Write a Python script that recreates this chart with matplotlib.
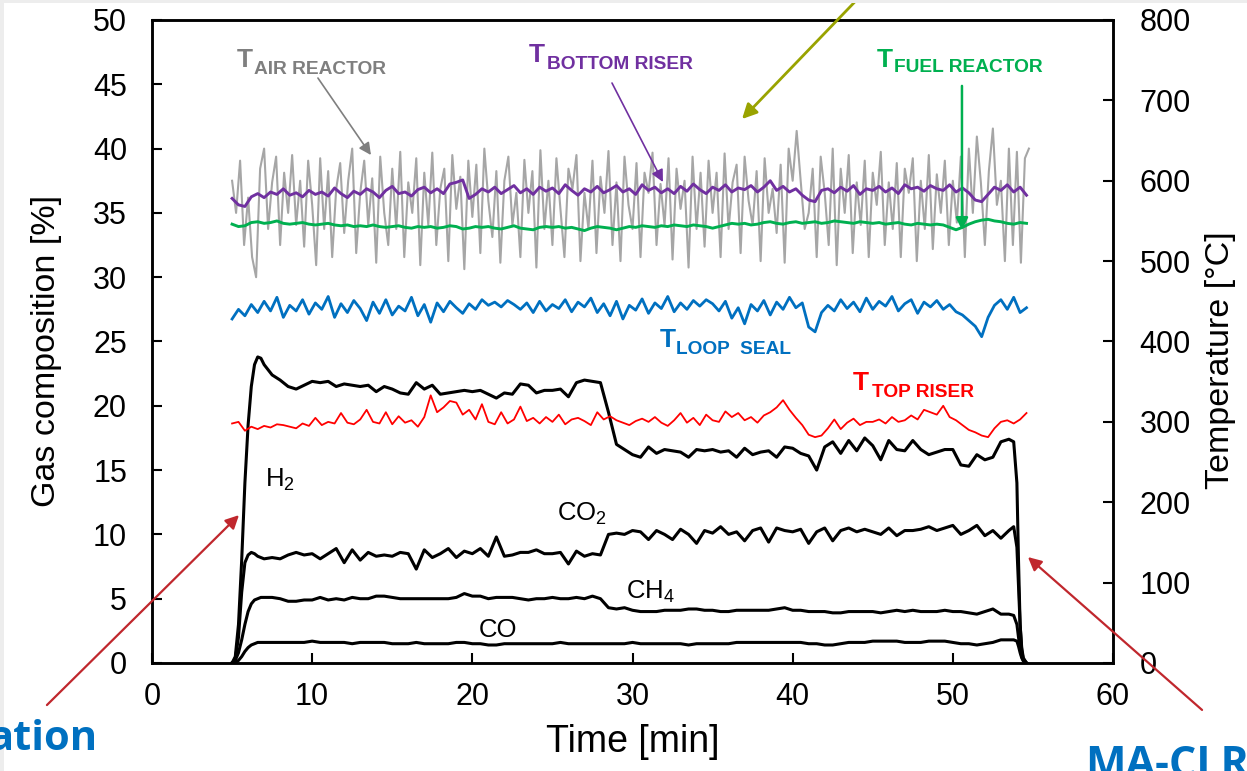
import numpy as np
import matplotlib
matplotlib.use('Agg')
import matplotlib.pyplot as plt
from matplotlib.patches import Rectangle

plt.rcParams['font.family'] = ['Liberation Sans', 'DejaVu Sans']
plt.rcParams['mathtext.fontset'] = 'custom'
plt.rcParams['mathtext.rm'] = 'Liberation Sans'

# ---------------- data: gas composition [%] ----------------
t_rise = [5.0, 5.2, 5.4, 5.6, 5.8, 6.0, 6.2, 6.4, 6.6, 6.8, 7.0]
t_fall = [53.8, 54.0, 54.1, 54.2, 54.3, 54.4, 54.6]
mid_start, mid_step = 7.5, 0.5

h2_rise = [0, 0.5, 3, 8, 14, 18.5, 21.5, 23.2, 23.8, 23.7, 23.2]
h2_mid = [22.4, 22.0, 21.5, 21.3, 21.6, 21.9, 21.8, 21.9, 21.5, 21.7,
          21.6, 21.5, 21.6, 21.1, 21.5, 21.3, 21.0, 20.9, 21.8, 21.3,
          21.6, 20.9, 21.0, 21.1, 21.2, 21.1, 21.2, 20.9, 20.6, 21.0,
          20.9, 21.7, 21.6, 21.0, 21.2, 21.2, 21.3, 20.7, 21.8, 22.0,
          21.9, 21.8, 19.5, 17.0, 16.6, 16.2, 16.0, 16.8, 16.3, 16.6,
          16.5, 16.4, 16.0, 16.6, 16.5, 16.6, 16.4, 16.5, 16.0, 16.7,
          16.2, 16.4, 16.5, 16.0, 16.8, 16.7, 16.3, 16.1, 15.0, 16.8,
          17.2, 16.3, 17.3, 16.5, 17.5, 16.9, 15.8, 17.3, 16.6, 16.5,
          17.3, 16.6, 16.2, 16.4, 16.6, 16.6, 15.4, 15.3, 16.2, 15.8,
          16.0, 17.2, 17.4]
h2_fall = [17.2, 14.0, 8.0, 3.0, 1.0, 0.3, 0]

co2_rise = [0, 0.3, 2.0, 5.5, 7.8, 8.4, 8.6, 8.5, 8.3, 8.2, 8.1]
co2_mid = [8.2, 8.1, 8.4, 8.6, 8.4, 8.5, 8.1, 8.5, 8.9, 7.8,
           8.8, 8.0, 8.6, 8.3, 8.4, 8.3, 8.6, 8.5, 7.3, 8.8,
           8.2, 8.5, 8.9, 8.2, 8.7, 8.5, 8.9, 8.3, 9.8, 8.3,
           8.4, 8.6, 8.6, 8.8, 8.5, 8.5, 8.6, 7.7, 8.7, 8.3,
           8.5, 8.4, 10.0, 10.1, 10.0, 10.3, 10.2, 9.6, 10.3, 10.0,
           9.6, 10.4, 10.0, 9.3, 10.3, 10.1, 10.6, 10.0, 10.2, 9.5,
           10.3, 10.5, 9.4, 10.5, 10.3, 10.2, 10.4, 9.3, 10.2, 10.5,
           9.5, 10.3, 10.5, 10.2, 10.4, 10.2, 10.0, 10.5, 9.9, 10.3,
           10.3, 10.4, 10.6, 10.3, 10.5, 10.7, 10.0, 10.3, 10.7, 9.9,
           10.3, 9.7, 10.3]
co2_fall = [10.6, 9.0, 6.0, 3.0, 1.2, 0.4, 0]

ch4_rise = [0, 0.2, 0.8, 1.8, 3.0, 4.0, 4.6, 4.9, 5.0, 5.1, 5.1]
ch4_mid = [5.1, 5.0, 4.8, 4.8, 4.9, 4.9, 5.1, 4.9, 5.0, 4.9,
           5.1, 5.0, 5.0, 5.2, 5.2, 5.1, 5.0, 5.0, 5.0, 5.0,
           5.0, 5.0, 5.0, 5.1, 5.4, 5.2, 5.2, 5.0, 5.1, 5.1,
           5.1, 5.0, 4.9, 5.0, 5.0, 5.1, 5.0, 5.0, 5.1, 5.0,
           5.2, 5.0, 4.3, 4.2, 4.3, 4.1, 4.0, 4.0, 4.0, 4.1,
           4.1, 4.1, 4.2, 4.2, 4.1, 4.1, 4.0, 4.0, 4.1, 4.1,
           4.1, 4.1, 4.1, 4.2, 4.3, 4.1, 4.1, 4.0, 4.0, 4.0,
           3.9, 3.9, 4.0, 4.0, 4.0, 4.0, 3.9, 4.0, 4.1, 4.0,
           4.1, 4.0, 4.0, 4.0, 4.1, 4.0, 4.0, 3.9, 3.8, 4.0,
           4.2, 3.8, 3.8]
ch4_fall = [3.7, 3.0, 2.0, 1.1, 0.5, 0.2, 0]

co_rise = [0, 0.05, 0.2, 0.5, 0.9, 1.2, 1.4, 1.5, 1.6, 1.6, 1.6]
co_mid = [1.6, 1.6, 1.6, 1.6, 1.6, 1.7, 1.6, 1.6, 1.6, 1.6,
          1.5, 1.6, 1.6, 1.6, 1.6, 1.5, 1.5, 1.5, 1.6, 1.5,
          1.5, 1.5, 1.5, 1.6, 1.6, 1.5, 1.5, 1.4, 1.4, 1.5,
          1.5, 1.5, 1.5, 1.5, 1.5, 1.5, 1.6, 1.5, 1.5, 1.5,
          1.5, 1.5, 1.5, 1.5, 1.5, 1.6, 1.5, 1.5, 1.5, 1.5,
          1.5, 1.5, 1.4, 1.5, 1.5, 1.5, 1.5, 1.5, 1.6, 1.6,
          1.6, 1.6, 1.6, 1.6, 1.6, 1.6, 1.6, 1.5, 1.5, 1.4,
          1.4, 1.5, 1.6, 1.6, 1.6, 1.7, 1.7, 1.7, 1.7, 1.6,
          1.6, 1.6, 1.7, 1.7, 1.7, 1.6, 1.5, 1.5, 1.4, 1.5,
          1.6, 1.8, 1.8]
co_fall = [1.8, 1.7, 1.3, 0.8, 0.4, 0.15, 0]

# ---------------- data: temperatures [degC] ----------------
temp_start, temp_step = 5.0, 0.4
air_start, air_step = 5.0, 0.25

T_bottom_riser = [578, 570, 568, 580, 584, 579, 586, 583, 590, 582,
                  585, 580, 588, 583, 586, 581, 591, 584, 579, 587,
                  583, 590, 586, 579, 588, 593, 584, 586, 581, 589,
                  592, 585, 590, 584, 596, 598, 601, 578, 583, 590,
                  586, 592, 584, 589, 594, 585, 590, 583, 592, 587,
                  591, 584, 595, 588, 582, 590, 586, 593, 585, 589,
                  594, 586, 590, 583, 595, 588, 592, 585, 590, 584,
                  593, 587, 596, 589, 584, 592, 588, 595, 586, 591,
                  589, 594, 586, 592, 600, 588, 593, 586, 590, 582,
                  576, 574, 588, 590, 585, 592, 587, 594, 583, 590,
                  588, 593, 586, 591, 584, 595, 590, 592, 587, 594,
                  590, 588, 595, 586, 591, 585, 576, 574, 583, 592,
                  588, 595, 586, 592, 582]

T_fuel_reactor = [546, 543, 544, 548, 549, 547, 548, 550, 547, 546,
                  547, 548, 546, 545, 546, 547, 545, 544, 545, 543,
                  544, 543, 545, 543, 542, 543, 544, 542, 541, 543,
                  542, 543, 541, 542, 544, 543, 540, 541, 543, 542,
                  543, 541, 540, 542, 544, 541, 540, 539, 542, 543,
                  542, 543, 541, 542, 540, 538, 541, 543, 542, 541,
                  539, 541, 543, 542, 544, 543, 542, 544, 543, 545,
                  544, 543, 545, 544, 543, 541, 543, 545, 547, 546,
                  547, 545, 546, 548, 549, 547, 546, 548, 549, 547,
                  548, 549, 547, 548, 550, 549, 548, 547, 549, 548,
                  547, 548, 546, 547, 548, 546, 545, 547, 546, 545,
                  546, 545, 542, 539, 542, 546, 549, 551, 552, 550,
                  549, 547, 546, 548, 547]

T_loop_seal = [428, 440, 432, 446, 436, 450, 438, 455, 430, 445,
               438, 452, 434, 448, 440, 456, 430, 447, 436, 451,
               441, 426, 449, 435, 452, 433, 444, 438, 455, 432,
               446, 424, 448, 437, 450, 442, 435, 447, 440, 452,
               445, 449, 443, 451, 446, 440, 448, 436, 450, 438,
               446, 441, 452, 437, 449, 443, 454, 436, 447, 432,
               450, 428, 445, 439, 453, 435, 448, 441, 456, 437,
               448, 440, 451, 444, 452, 447, 438, 450, 429, 442,
               422, 446, 438, 451, 433, 449, 440, 455, 442, 448,
               418, 412, 436, 445, 438, 452, 441, 449, 437, 454,
               440, 450, 444, 456, 438, 447, 452, 435, 449, 443,
               451, 440, 446, 437, 433, 426, 419, 406, 430, 445,
               452, 440, 455, 436, 442]

T_top_riser = [298, 300, 289, 294, 291, 295, 293, 297, 296, 294,
               292, 298, 295, 305, 296, 300, 298, 311, 299, 297,
               303, 315, 300, 298, 312, 297, 307, 299, 302, 294,
               306, 333, 312, 318, 326, 324, 309, 315, 303, 322,
               300, 297, 312, 298, 303, 319, 301, 305, 298, 306,
               300, 309, 297, 303, 305, 301, 296, 312, 303, 307,
               302, 299, 296, 301, 304, 300, 306, 299, 295, 302,
               311, 299, 305, 296, 309, 302, 300, 313, 306, 311,
               302, 306, 299, 308, 312, 318, 327, 315, 305, 296,
               284, 281, 283, 292, 303, 291, 299, 304, 296, 300,
               300, 303, 298, 306, 300, 302, 308, 303, 315, 312,
               309, 320, 306, 302, 296, 290, 287, 283, 281, 292,
               300, 302, 298, 303, 311]

T_air_reactor = [600, 560, 625, 520, 579, 505, 480, 615, 640, 540, 598, 630, 520, 610, 560, 632, 545, 600, 518, 625,
                 570, 495, 628, 540, 612, 505, 590, 622, 535, 600, 640, 510, 585, 625, 545, 603, 498, 630, 560, 520,
                 615, 540, 636, 505, 598, 560, 628, 495, 610, 545, 635, 520, 590, 615, 500, 632, 565, 605, 490, 625,
                 555, 620, 510, 640, 575, 530, 612, 498, 600, 630, 545, 585, 505, 626, 560, 612, 492, 638, 540, 600,
                 520, 628, 565, 505, 615, 590, 632, 500, 585, 540, 625, 510, 605, 560, 637, 520, 598, 500, 630, 570,
                 540, 622, 505, 610, 585, 635, 520, 596, 545, 628, 502, 615, 565, 600, 492, 630, 540, 610, 518, 625,
                 560, 610, 505, 634, 540, 598, 620, 510, 630, 575, 545, 612, 500, 628, 560, 590, 535, 620, 498, 640,
                 600, 662, 600, 540, 560, 615, 505, 630, 585, 520, 640, 495, 615, 560, 632, 510, 598, 545, 625, 505,
                 610, 570, 636, 520, 598, 540, 622, 505, 615, 585, 628, 500, 600, 540, 632, 515, 608, 560, 625, 520,
                 600, 548, 630, 505, 640, 560, 655, 598, 520, 612, 665, 570, 600, 500, 640, 520, 636, 498, 628, 640]

x_ticks = [0, 10, 20, 30, 40, 50, 60]
y_ticks = [0, 5, 10, 15, 20, 25, 30, 35, 40, 45, 50]
t_ticks = [0, 100, 200, 300, 400, 500, 600, 700, 800]

# ---------------- build arrays ----------------
def gas_series(rise, mid, fall):
    t_mid = mid_start + mid_step * np.arange(len(mid))
    t = np.concatenate([t_rise[:len(rise)], t_mid, t_fall[:len(fall)]])
    v = np.concatenate([rise, mid, fall])
    return t, v

t_temp = lambda arr: temp_start + temp_step * np.arange(len(arr))
t_air = air_start + air_step * np.arange(len(T_air_reactor))

# ---------------- figure ----------------
fig = plt.figure(figsize=(12.47, 7.71), dpi=100)
fig.add_artist(Rectangle((0, 1 - 3 / 771), 1, 3 / 771, transform=fig.transFigure,
                         color='#EDEDED', lw=0))
fig.add_artist(Rectangle((0, 0), 4 / 1247, 1, transform=fig.transFigure,
                         color='#EDEDED', lw=0))

ax = fig.add_axes([152 / 1247, 108 / 771, 961 / 1247, 643 / 771])
ax2 = ax.twinx()

LW_GAS = 2.2
for rise, mid, fall in [(h2_rise, h2_mid, h2_fall), (co2_rise, co2_mid, co2_fall),
                        (ch4_rise, ch4_mid, ch4_fall), (co_rise, co_mid, co_fall)]:
    t, v = gas_series(rise, mid, fall)
    ax.plot(t, v, color='black', lw=LW_GAS, solid_joinstyle='round')

ax2.plot(t_air, T_air_reactor, color='#A6A6A6', lw=1.5)
ax2.plot(t_temp(T_bottom_riser), T_bottom_riser, color='#7030A0', lw=2.1)
ax2.plot(t_temp(T_fuel_reactor), T_fuel_reactor, color='#00B050', lw=2.1)
ax2.plot(t_temp(T_loop_seal), T_loop_seal, color='#0070C0', lw=2.0)
ax2.plot(t_temp(T_top_riser), T_top_riser, color='#FF0000', lw=1.3)

ax.set_xlim(0, 60)
ax.set_ylim(0, 50)
ax2.set_ylim(0, 800)
ax.set_xticks(x_ticks)
ax.set_yticks(y_ticks)
ax2.set_yticks(t_ticks)

for a in (ax, ax2):
    for s in a.spines.values():
        s.set_linewidth(1.8)
ax.tick_params(axis='x', direction='in', length=7, width=1.5, labelsize=22, pad=14, top=False)
ax.tick_params(axis='y', direction='in', length=7, width=1.5, labelsize=22, pad=18)
ax2.tick_params(axis='y', direction='in', length=7, width=1.5, labelsize=22, pad=19)

ax.set_xlabel('Time [min]', fontsize=27)
ax.xaxis.set_label_coords(0.5005, -0.095)
ax.set_ylabel('Gas composition [%]', fontsize=24.5)
ax.yaxis.set_label_coords(-0.0937, 0.485)
ax2.set_ylabel('Temperature [°C]', fontsize=24.5)
ax2.yaxis.set_label_coords(1.0957, 0.471)

# gas labels
gas_fs = 18.5
ax.text(7.06, 13.69, r'H$_\mathregular{2}$', fontsize=gas_fs, ha='left', va='baseline')
ax.text(25.29, 11.07, r'CO$_\mathregular{2}$', fontsize=gas_fs, ha='left', va='baseline')
ax.text(29.59, 5.05, r'CH$_\mathregular{4}$', fontsize=gas_fs, ha='left', va='baseline')
ax.text(20.42, 2.05, 'CO', fontsize=gas_fs, ha='left', va='baseline')

# temperature labels (big T + subscript)
def tlabel(x_t, y_t, x_s, y_s, sub, color):
    ax2.text(x_t, y_t, 'T', fontsize=19, fontweight='bold', color=color,
             ha='left', va='baseline')
    ax2.text(x_s, y_s, sub, fontsize=13.8, fontweight='bold', color=color,
             ha='left', va='baseline')

tlabel(5.31, 741.6, 6.37, 732.8, 'AIR REACTOR', '#7F7F7F')
tlabel(23.54, 747.7, 24.66, 739.0, 'BOTTOM RISER', '#7030A0')
tlabel(45.26, 741.6, 46.33, 735.4, 'FUEL REACTOR', '#00B050')
tlabel(31.72, 393.1, 32.72, 384.5, 'LOOP  SEAL', '#0070C0')
tlabel(43.77, 339.7, 44.95, 330.9, 'TOP RISER', '#FF0000')

def arrow(tail, head, color, lw=1.4, ms=18):
    ax2.annotate('', xy=head, xytext=tail,
                 arrowprops=dict(arrowstyle='-|>', color=color, lw=lw,
                                 mutation_scale=ms, shrinkA=0, shrinkB=0),
                 annotation_clip=False)

arrow((10.36, 727.8), (13.67, 632), '#7F7F7F', lw=1.2)
arrow((28.72, 721.6), (31.9, 598.4), '#7030A0', lw=1.2)
arrow((50.57, 718), (50.57, 538.7), '#00B050', lw=1.8)
arrow((44.0, 825), (36.84, 676.8), '#99A300', lw=2.0, ms=22)
arrow((-6.56, -52.3), (5.43, 184), '#C0272D', lw=1.6, ms=20)
arrow((65.56, -58.4), (54.69, 131.8), '#C0272D', lw=1.6, ms=20)

# cut-off slide texts (cut at the picture edges as in the reference)
fig.text(97 / 1247, 21 / 771, 'ation', fontsize=30, fontweight='bold',
         family=['Open Sans', 'DejaVu Sans'], color='#0070C0', ha='right', va='baseline')
fig.text(1085 / 1247, -6 / 771, 'MA-CLR', fontsize=31, fontweight='bold',
         family=['Open Sans', 'DejaVu Sans'], color='#0070C0', ha='left', va='baseline')

fig.savefig('out.png', dpi=100)
